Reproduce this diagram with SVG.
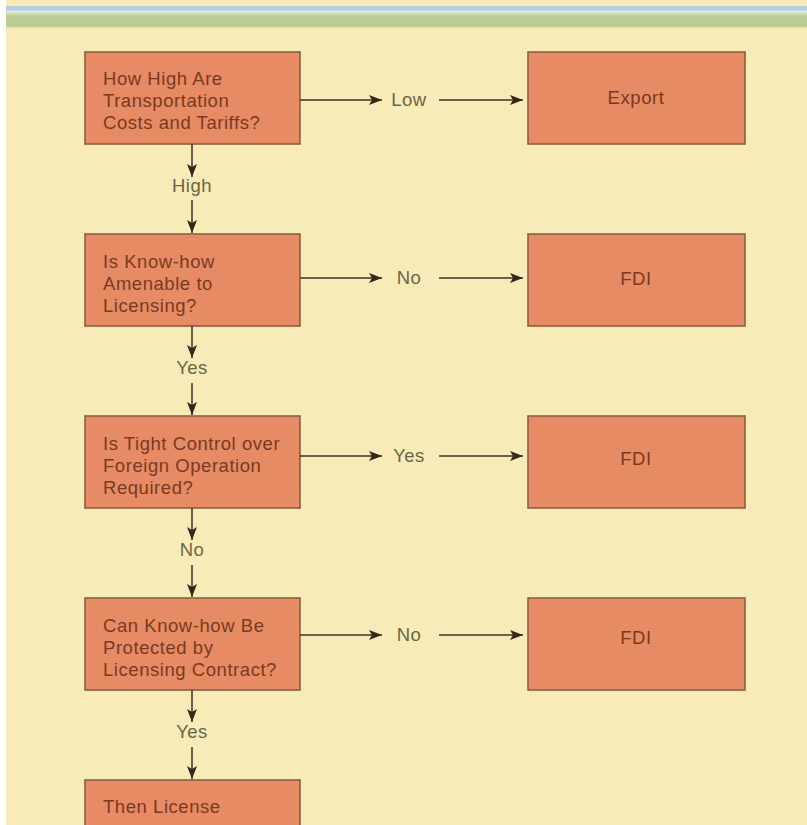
<svg xmlns="http://www.w3.org/2000/svg" width="807" height="825" viewBox="0 0 807 825">
<defs>
<linearGradient id="band" x1="0" y1="0" x2="0" y2="1">
<stop offset="0" stop-color="#b5cbe0"/>
<stop offset="0.17" stop-color="#b8cde0"/>
<stop offset="0.25" stop-color="#dfece4"/>
<stop offset="0.38" stop-color="#c8d6a8"/>
<stop offset="0.45" stop-color="#bccb96"/>
<stop offset="0.92" stop-color="#bccb96"/>
<stop offset="1" stop-color="#f3e8b6"/>
</linearGradient>
<marker id="ah" markerUnits="userSpaceOnUse" markerWidth="14" markerHeight="10" refX="13" refY="5" orient="auto">
<path d="M0,0 L13,5 L0,10 L3,5 Z" fill="#2f2a1c"/>
</marker>
<style>
.box{fill:#e68b64;stroke:#8a6040;stroke-width:1.6}
.bt{font-family:"Liberation Sans",Arial,sans-serif;font-size:18.5px;letter-spacing:0.55px;fill:#7a3a20}
.ct{text-anchor:middle}
.lb{font-family:"Liberation Sans",Arial,sans-serif;font-size:18.5px;letter-spacing:0.5px;fill:#6b6645;text-anchor:middle}
.ln{stroke:#3a3424;stroke-width:1.5;fill:none;marker-end:url(#ah)}
</style>
</defs>
<rect width="807" height="825" fill="#ffffff"/>
<rect x="6" y="0" width="801" height="825" fill="#f7ebb8"/>
<rect x="6" y="6" width="801" height="22" fill="url(#band)"/>

<g id="q1">
<rect class="box" x="85" y="52" width="215" height="92"/>
<text class="bt" x="103" y="85">How High Are</text>
<text class="bt" x="103" y="107">Transportation</text>
<text class="bt" x="103" y="129">Costs and Tariffs?</text>
</g>
<g id="export">
<rect class="box" x="528" y="52" width="217" height="92"/>
<text class="bt ct" x="636" y="104">Export</text>
</g>

<g id="q2">
<rect class="box" x="85" y="234" width="215" height="92"/>
<text class="bt" x="103" y="268">Is Know-how</text>
<text class="bt" x="103" y="290">Amenable to</text>
<text class="bt" x="103" y="312">Licensing?</text>
</g>
<g id="fdi1">
<rect class="box" x="528" y="234" width="217" height="92"/>
<text class="bt ct" x="636" y="285">FDI</text>
</g>

<g id="q3">
<rect class="box" x="85" y="416" width="215" height="92"/>
<text class="bt" x="103" y="450">Is Tight Control over</text>
<text class="bt" x="103" y="472">Foreign Operation</text>
<text class="bt" x="103" y="494">Required?</text>
</g>
<g id="fdi2">
<rect class="box" x="528" y="416" width="217" height="92"/>
<text class="bt ct" x="636" y="465">FDI</text>
</g>

<g id="q4">
<rect class="box" x="85" y="598" width="215" height="92"/>
<text class="bt" x="103" y="632">Can Know-how Be</text>
<text class="bt" x="103" y="654">Protected by</text>
<text class="bt" x="103" y="676">Licensing Contract?</text>
</g>
<g id="fdi3">
<rect class="box" x="528" y="598" width="217" height="92"/>
<text class="bt ct" x="636" y="644">FDI</text>
</g>

<g id="license">
<rect class="box" x="85" y="780" width="215" height="60"/>
<text class="bt" x="103" y="813">Then License</text>
</g>

<g id="connectors">
<line class="ln" x1="300" y1="100" x2="382" y2="100"/>
<line class="ln" x1="439" y1="100" x2="523" y2="100"/>
<text class="lb" x="409" y="106">Low</text>
<line class="ln" x1="192" y1="144" x2="192" y2="177"/>
<text class="lb" x="192" y="192">High</text>
<line class="ln" x1="192" y1="200" x2="192" y2="233"/>

<line class="ln" x1="300" y1="278" x2="382" y2="278"/>
<line class="ln" x1="439" y1="278" x2="523" y2="278"/>
<text class="lb" x="409" y="284">No</text>
<line class="ln" x1="192" y1="326" x2="192" y2="358"/>
<text class="lb" x="192" y="374">Yes</text>
<line class="ln" x1="192" y1="383" x2="192" y2="415"/>

<line class="ln" x1="300" y1="456" x2="382" y2="456"/>
<line class="ln" x1="439" y1="456" x2="523" y2="456"/>
<text class="lb" x="409" y="462">Yes</text>
<line class="ln" x1="192" y1="508" x2="192" y2="540"/>
<text class="lb" x="192" y="556">No</text>
<line class="ln" x1="192" y1="565" x2="192" y2="597"/>

<line class="ln" x1="300" y1="635" x2="382" y2="635"/>
<line class="ln" x1="439" y1="635" x2="523" y2="635"/>
<text class="lb" x="409" y="641">No</text>
<line class="ln" x1="192" y1="690" x2="192" y2="722"/>
<text class="lb" x="192" y="738">Yes</text>
<line class="ln" x1="192" y1="747" x2="192" y2="779"/>
</g>
</svg>
